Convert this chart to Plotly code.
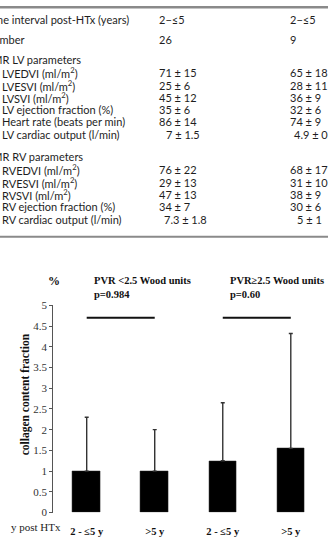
import plotly.graph_objects as go

# ---------------- data ----------------
row_labels = [
    "Time interval post-HTx (years)", "Number", "CMR LV parameters",
    "LVEDVI (ml/m<sup>2</sup>)", "LVESVI (ml/m<sup>2</sup>)", "LVSVI (ml/m<sup>2</sup>)",
    "LV ejection fraction (%)", "Heart rate (beats per min)", "LV cardiac output (l/min)",
    "CMR RV parameters",
    "RVEDVI (ml/m<sup>2</sup>)", "RVESVI (ml/m<sup>2</sup>)", "RVSVI (ml/m<sup>2</sup>)",
    "RV ejection fraction (%)", "RV cardiac output (l/min)",
]
col_a = ["2−≤5", "26", "", "71 ± 15", "25 ± 6", "45 ± 12", "35 ± 6", "86 ± 14", "7 ± 1.5",
         "", "76 ± 22", "29 ± 13", "47 ± 13", "34 ± 7", "7.3 ± 1.8"]
col_b = ["2−≤5", "9", "", "65 ± 18", "28 ± 11", "36 ± 9", "32 ± 6", "74 ± 9", "4.9 ± 0.8",
         "", "68 ± 17", "31 ± 10", "38 ± 9", "30 ± 6", "5 ± 1"]

group_titles = ["PVR &lt;2.5 Wood units", "PVR≥2.5 Wood units"]
p_values = ["p=0.984", "p=0.60"]
bar_labels = ["2 - ≤5 y", "&gt;5 y", "2 - ≤5 y", "&gt;5 y"]
collagen_mean = [1.0, 1.0, 1.25, 1.55]
collagen_sd = [1.3, 1.0, 1.4, 2.77]
y_ticks = [0, 0.5, 1, 1.5, 2, 2.5, 3, 3.5, 4, 4.5, 5]

# ---------------- styles / layout ----------------
W, H = 328, 546
def py(px):
    return 1 - px / H
def pxx(px):
    return px / W

row_y = [14, 34, 55, 68.5, 81, 93.5, 106, 118.5, 131.5, 154, 167.5, 180.5, 193, 205.5, 218.5]
indented = {3, 4, 5, 6, 7, 8, 10, 11, 12, 13, 14}
shift_a = {8: 7, 14: 5}
shift_b = {8: 4, 14: 7}
TFONT = dict(family="Lato, 'Noto Sans', sans-serif", size=11, color="#1e1e1e")
SERIF = "Liberation Serif, Times New Roman, serif"

fig = go.Figure()

xs = list(range(len(collagen_mean)))
fig.add_trace(go.Bar(
    x=xs, y=collagen_mean, width=0.41,
    marker=dict(color="black", line=dict(color="#222", width=0.5)),
    error_y=dict(type="data", symmetric=False, array=collagen_sd,
                 arrayminus=[0] * len(collagen_sd), color="#333", thickness=1.4, width=2),
    showlegend=False,
))

annotations = []
for i, lab in enumerate(row_labels):
    annotations.append(dict(
        text=lab, x=0, y=py(row_y[i]), xref="paper", yref="paper",
        xanchor="left", yanchor="middle", showarrow=False, font=TFONT,
        xshift=(0 if i in indented else -17)))
    if col_a[i]:
        annotations.append(dict(
            text=col_a[i], x=pxx(157 + shift_a.get(i, 0)), y=py(row_y[i]), xref="paper", yref="paper",
            xanchor="left", yanchor="middle", showarrow=False, font=TFONT))
    if col_b[i]:
        annotations.append(dict(
            text=col_b[i], x=pxx(288 + shift_b.get(i, 0)), y=py(row_y[i]), xref="paper", yref="paper",
            xanchor="left", yanchor="middle", showarrow=False, font=TFONT))

# chart texts
for gx, title, pv in zip([92, 228], group_titles, p_values):
    annotations.append(dict(text="<b>" + title + "</b>", x=pxx(gx), y=py(281), xref="paper", yref="paper",
                            xanchor="left", yanchor="middle", showarrow=False,
                            font=dict(family=SERIF, size=10.5, color="#111")))
    annotations.append(dict(text="<b>" + pv + "</b>", x=pxx(gx), y=py(295), xref="paper", yref="paper",
                            xanchor="left", yanchor="middle", showarrow=False,
                            font=dict(family=SERIF, size=10.5, color="#111")))
annotations.append(dict(text="<b>%</b>", x=pxx(54), y=py(281), xref="paper", yref="paper",
                        xanchor="center", yanchor="middle", showarrow=False,
                        font=dict(family=SERIF, size=12, color="#111")))
annotations.append(dict(text="<b>collagen content fraction</b>", x=pxx(25), y=py(397), xref="paper",
                        yref="paper", xanchor="center", yanchor="middle", textangle=-90, showarrow=False,
                        font=dict(family=SERIF, size=11.5, color="#111")))
annotations.append(dict(text="y post HTx", x=pxx(9), y=py(533), xref="paper", yref="paper",
                        xanchor="left", yanchor="middle", showarrow=False,
                        font=dict(family=SERIF, size=11, color="#222")))

shapes = [
    dict(type="line", xref="paper", yref="paper", x0=0, x1=1, y0=py(1.2), y1=py(1.2),
         line=dict(color="#8a8a8a", width=2.5)),
    dict(type="line", xref="paper", yref="paper", x0=0, x1=1, y0=py(236), y1=py(236),
         line=dict(color="#8a8a8a", width=2)),
    dict(type="line", xref="x", yref="y", x0=0, x1=1, y0=4.7, y1=4.7, line=dict(color="#111", width=2)),
    dict(type="line", xref="x", yref="y", x0=2, x1=3, y0=4.7, y1=4.7, line=dict(color="#111", width=2)),
]

x_left_px, c0_px, step_px = 53.3, 86.7, 68.03
fig.update_layout(
    width=W, height=H, margin=dict(l=0, r=0, t=0, b=0),
    paper_bgcolor="white", plot_bgcolor="white",
    annotations=annotations, shapes=shapes, bargap=0,
    xaxis=dict(domain=[x_left_px / W, 1],
               range=[-(c0_px - x_left_px) / step_px, (W - c0_px) / step_px],
               tickvals=xs, ticktext=["<b>" + t + "</b>" for t in bar_labels],
               tickfont=dict(family=SERIF, size=10.5, color="#111"),
               ticks="outside", ticklen=9, tickcolor="rgba(0,0,0,0)",
               showline=False, showgrid=False, zeroline=False),
    yaxis=dict(domain=[py(518), py(306)], range=[0, 5], tickvals=y_ticks,
               ticks="outside", ticklen=3, tickcolor="#555", showline=True, linecolor="#555",
               linewidth=1, showgrid=False, zeroline=False,
               tickfont=dict(family=SERIF, size=11, color="#333")),
)

fig.write_html("out.html")
